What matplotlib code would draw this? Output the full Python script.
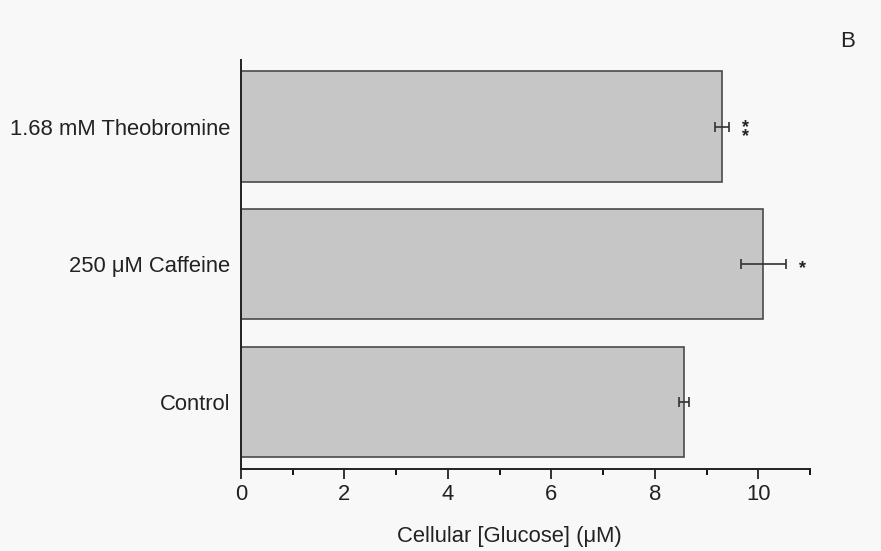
import matplotlib.pyplot as plt
from matplotlib.ticker import MultipleLocator

plt.rcParams['font.family'] = ['Liberation Sans', 'DejaVu Sans']

labels = ["Control", "250 \u03bcM Caffeine", "1.68 mM Theobromine"]
values = [8.57, 10.10, 9.30]
errors = [0.10, 0.43, 0.14]
stars = ["", "*", "**"]

fig = plt.figure(figsize=(8.81, 5.51), dpi=100, facecolor="#f8f8f8")
ax = fig.add_axes([0.2736, 0.1488, 0.6458, 0.7423])
ax.set_facecolor("#f8f8f8")

pos = range(len(labels))
ax.barh(pos, values, height=0.8, color="#c6c6c6", edgecolor="#4a4a4a", linewidth=1.2)
ax.errorbar(values, pos, xerr=errors, fmt="none", ecolor="#333333",
            elinewidth=1.2, capsize=3.5, capthick=1.2)

for i, s in enumerate(stars):
    if s == "**":
        ax.text(values[i] + errors[i] + 0.32, i - 0.04, "*\n*", ha="center", va="center",
                fontsize=13, fontweight="bold", color="#222222", linespacing=0.45)
    elif s:
        ax.text(values[i] + errors[i] + 0.32, i - 0.03, "*", ha="center", va="center",
                fontsize=13, fontweight="bold", color="#222222")

ax.set_xlim(0, 11)
ax.set_ylim(-0.486, 2.483)
ax.set_yticks(list(pos))
ax.set_yticklabels(labels, fontsize=15.8, color="#222222")
ax.tick_params(axis="y", length=0, pad=8)

ax.xaxis.set_major_locator(MultipleLocator(2))
ax.xaxis.set_minor_locator(MultipleLocator(1))
ax.tick_params(axis="x", which="major", length=7, width=1.3, labelsize=15.8,
               colors="#222222", pad=4)
ax.tick_params(axis="x", which="minor", length=4, width=1.3)

for side in ["top", "right"]:
    ax.spines[side].set_visible(False)
for side in ["left", "bottom"]:
    ax.spines[side].set_linewidth(1.4)
    ax.spines[side].set_color("#222222")

ax.set_xlabel("Cellular [Glucose] (\u03bcM)", fontsize=15.8, color="#222222",
              labelpad=15, x=0.472)

fig.text(0.962, 0.925, "B", fontsize=16, color="#222222", ha="center", va="center")

fig.savefig("out.png", dpi=100, facecolor=fig.get_facecolor())
